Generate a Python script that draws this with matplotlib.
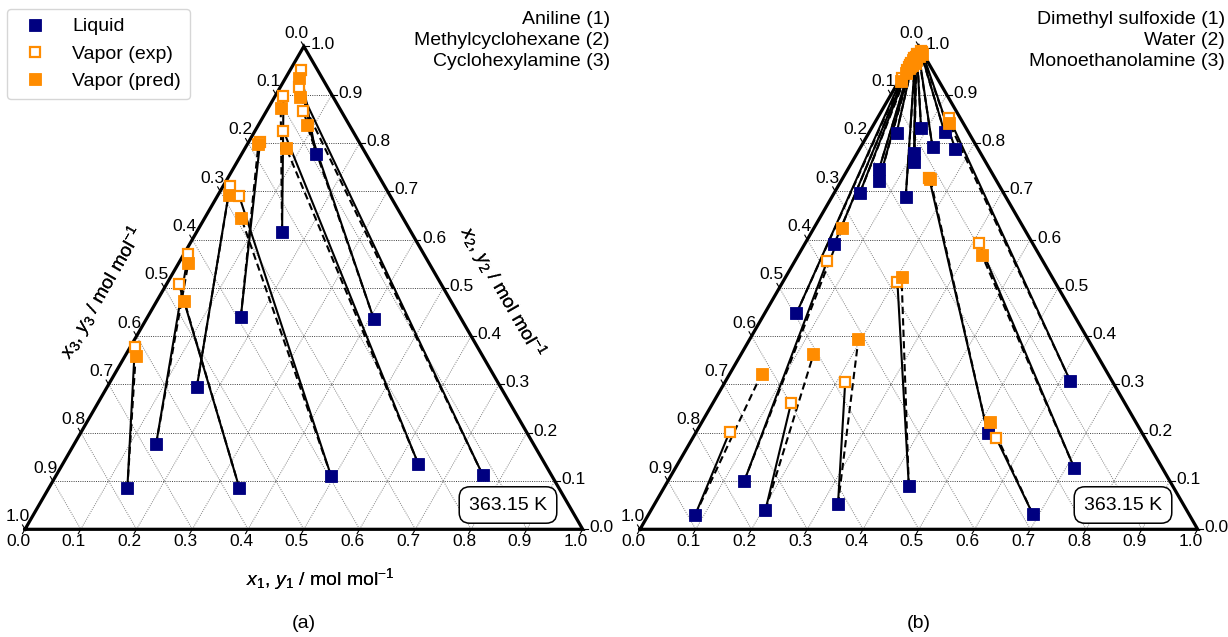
import numpy as np
import matplotlib
matplotlib.use("Agg")
import matplotlib.pyplot as plt
from matplotlib.lines import Line2D

plt.rcParams['font.family'] = ['Liberation Sans', 'DejaVu Sans']
plt.rcParams['mathtext.fontset'] = 'custom'
plt.rcParams['mathtext.rm'] = 'Liberation Sans'
plt.rcParams['mathtext.it'] = 'Liberation Sans:italic'

# ---------------- data ----------------
# panel (a): Aniline (1) / Methylcyclohexane (2) / Cyclohexylamine (3)
a_names = ["Aniline (1)", "Methylcyclohexane (2)", "Cyclohexylamine (3)"]
a_liq_x1 = [0.141, 0.147, 0.342, 0.161, 0.167, 0.153, 0.494, 0.408, 0.637, 0.764, 0.133]
a_liq_x2 = [0.085, 0.176, 0.085, 0.294, 0.440, 0.616, 0.110, 0.435, 0.136, 0.113, 0.777]
a_exp_y1 = [0.008, 0.008, 0.022, 0.012, 0.021, 0.015, 0.039, 0.065, 0.051, 0.034, 0.018]
a_exp_y2 = [0.378, 0.569, 0.508, 0.711, 0.801, 0.897, 0.690, 0.867, 0.825, 0.915, 0.952]
a_pred_y1 = [0.019, 0.017, 0.049, 0.019, 0.020, 0.022, 0.065, 0.087, 0.073, 0.045, 0.025]
a_pred_y2 = [0.359, 0.552, 0.473, 0.692, 0.797, 0.873, 0.645, 0.837, 0.790, 0.896, 0.934]

# panel (b): Dimethyl sulfoxide (1) / Water (2) / Monoethanolamine (3)
b_names = ["Dimethyl sulfoxide (1)", "Water (2)", "Monoethanolamine (3)"]
b_liq_x1 = [0.084, 0.137, 0.205, 0.329, 0.437, 0.057, 0.053, 0.046, 0.056, 0.068, 0.050,
            0.132, 0.102, 0.111, 0.089, 0.129, 0.135, 0.172, 0.618, 0.716, 0.688, 0.524]
b_liq_x2 = [0.030, 0.100, 0.040, 0.052, 0.090, 0.447, 0.591, 0.697, 0.745, 0.721, 0.820,
            0.689, 0.780, 0.761, 0.830, 0.791, 0.822, 0.787, 0.307, 0.126, 0.032, 0.199]
b_exp_y1 = [0.060, 0.058, 0.140, 0.215, 0.205, 0.002, 0.003, 0.003, 0.004, 0.004, 0.003,
            0.008, 0.006, 0.006, 0.004, 0.008, 0.008, 0.012, 0.129, 0.312, 0.545, 0.155]
b_exp_y2 = [0.201, 0.556, 0.262, 0.306, 0.513, 0.935, 0.950, 0.958, 0.962, 0.965, 0.975,
            0.970, 0.978, 0.976, 0.985, 0.984, 0.990, 0.988, 0.851, 0.592, 0.188, 0.727]
b_pred_y1 = [0.057, 0.051, 0.130, 0.195, 0.208, 0.004, 0.004, 0.005, 0.005, 0.006, 0.004,
             0.010, 0.008, 0.008, 0.006, 0.010, 0.010, 0.014, 0.134, 0.329, 0.517, 0.158]
b_pred_y2 = [0.322, 0.624, 0.362, 0.393, 0.522, 0.929, 0.945, 0.955, 0.960, 0.962, 0.972,
             0.966, 0.975, 0.972, 0.982, 0.980, 0.987, 0.984, 0.841, 0.568, 0.222, 0.725]

temperature = "363.15 K"
tick_values = np.round(np.arange(0, 1.01, 0.1), 1)
panel_labels = ["(a)", "(b)"]

# ---------------- style ----------------
NAVY = "#000080"
ORANGE = "#FF8C00"
W, H = 1228, 637
SIDE = 557.7
BOTTOM = 529.3
S3 = np.sqrt(3) / 2
P = 1.0 / SIDE  # data units per pixel
FS = 14
TFS = 12.5
MS = 8.3
MS_OPEN = 7.4


def tern(x1, x2):
    x1 = np.asarray(x1, float)
    x2 = np.asarray(x2, float)
    return x1 + x2 / 2.0, x2 * S3


fig = plt.figure(figsize=(W / 100, H / 100), dpi=100)


def panel(blx, names, lx1, lx2, ex1, ex2, px1, px2, tag):
    ax = fig.add_axes([blx / W, (H - BOTTOM) / H, SIDE / W, SIDE * S3 / H])
    ax.set_xlim(0, 1)
    ax.set_ylim(0, S3)
    ax.axis('off')

    def pix(px, py):
        return (px - blx) * P, (BOTTOM - py) * P

    hkw = dict(color='0.25', lw=0.7, ls=(0, (1, 1.3)), zorder=1, clip_on=False)
    dkw = dict(color='0.5', lw=0.7, ls=(0, (1, 1.3)), zorder=1, clip_on=False)
    for v in tick_values[1:-1]:
        X, Y = tern([0, 1 - v], [v, v]); ax.plot(X, Y, **hkw)
        X, Y = tern([v, v], [0, 1 - v]); ax.plot(X, Y, **dkw)
        X, Y = tern([0, 1 - v], [1 - v, 0]); ax.plot(X, Y, **dkw)

    # triangle
    X, Y = tern([0, 1, 0, 0], [0, 0, 1, 0])
    ax.plot(X, Y, color='k', lw=2.3, zorder=2, clip_on=False, solid_joinstyle='miter')

    # ticks and tick labels
    tl = 5 * P
    for v in tick_values:
        lab = f"{v:.1f}"
        # bottom axis (x1)
        X0, Y0 = tern(v, 0)
        d = np.array([-0.5, -S3])
        ax.plot([X0, X0 + d[0] * tl], [Y0, Y0 + d[1] * tl], color='k', lw=0.8, clip_on=False)
        ax.text(X0 + d[0] * 14 * P, Y0 + d[1] * 14 * P, lab, ha='center', va='center', fontsize=TFS)
        # left axis (x3)
        X0, Y0 = tern(0, 1 - v)
        d = np.array([-0.5, S3])
        ax.plot([X0, X0 + d[0] * tl], [Y0, Y0 + d[1] * tl], color='k', lw=0.8, clip_on=False)
        ax.text(X0 + d[0] * 15 * P, Y0 + d[1] * 15 * P, lab, ha='center', va='center', fontsize=TFS)
        # right axis (x2)
        X0, Y0 = tern(1 - v, v)
        ax.plot([X0, X0 + tl], [Y0, Y0], color='k', lw=0.8, clip_on=False)
        ax.text(X0 + 6.5 * P, Y0 + 1.5 * P, lab, ha='left', va='center', fontsize=TFS)

    # tie lines
    LX, LY = tern(lx1, lx2)
    EX, EY = tern(ex1, ex2)
    PX, PY = tern(px1, px2)
    for i in range(len(LX)):
        ax.plot([LX[i], PX[i]], [LY[i], PY[i]], color='k', lw=1.5, ls=(0, (3.5, 2)), zorder=3, clip_on=False)
        ax.plot([LX[i], EX[i]], [LY[i], EY[i]], color='k', lw=1.5, zorder=3, clip_on=False)

    ax.plot(LX, LY, ls='none', marker='s', ms=MS, mfc=NAVY, mec=NAVY, mew=0.6, zorder=4, clip_on=False)
    ax.plot(EX, EY, ls='none', marker='s', ms=MS_OPEN, mfc='white', mec=ORANGE, mew=1.6, zorder=5, clip_on=False)
    ax.plot(PX, PY, ls='none', marker='s', ms=MS, mfc=ORANGE, mec=ORANGE, mew=0.6, zorder=6, clip_on=False)

    # axis titles
    x, y = pix(320, 579)
    ax.text(x, y, "$x_1$, $y_1$ / mol mol$^{-1}$", ha='center', va='center', fontsize=FS)
    x, y = pix(102, 292)
    ax.text(x, y, "$x_3$, $y_3$ / mol mol$^{-1}$", ha='center', va='center', fontsize=FS,
            rotation=60, rotation_mode='anchor')
    x, y = pix(502, 292)
    ax.text(x, y, "$x_2$, $y_2$ / mol mol$^{-1}$", ha='center', va='center', fontsize=FS,
            rotation=-60, rotation_mode='anchor')

    # component names
    for k, nm in enumerate(names):
        x, y = pix(blx + 585, 20 + 20.8 * k)
        ax.text(x, y, nm, ha='right', va='center', fontsize=FS)

    # temperature box
    x, y = pix(blx + 483, 505)
    ax.text(x, y, temperature, ha='center', va='center', fontsize=FS, zorder=8,
            bbox=dict(boxstyle='round,pad=0.5,rounding_size=0.55', fc='white', ec='k', lw=1.1))

    x, y = pix(blx + 279, 624)
    ax.text(x, y, tag, ha='center', va='center', fontsize=FS)
    return ax


panel(25, a_names, a_liq_x1, a_liq_x2, a_exp_y1, a_exp_y2, a_pred_y1, a_pred_y2, panel_labels[0])
panel(640, b_names, b_liq_x1, b_liq_x2, b_exp_y1, b_exp_y2, b_pred_y1, b_pred_y2, panel_labels[1])

handles = [
    Line2D([], [], ls='none', marker='s', ms=MS, mfc=NAVY, mec=NAVY, mew=0.6),
    Line2D([], [], ls='none', marker='s', ms=MS_OPEN, mfc='white', mec=ORANGE, mew=1.6),
    Line2D([], [], ls='none', marker='s', ms=MS, mfc=ORANGE, mec=ORANGE, mew=0.6),
]
fig.legend(handles, ["Liquid", "Vapor (exp)", "Vapor (pred)"], loc='upper left',
           bbox_to_anchor=(7 / W, 1 - 9 / H), borderaxespad=0, fontsize=FS,
           labelspacing=0.5, numpoints=1, handlelength=2.0, handletextpad=0.9,
           borderpad=0.45)

fig.savefig("out.png", dpi=100)
